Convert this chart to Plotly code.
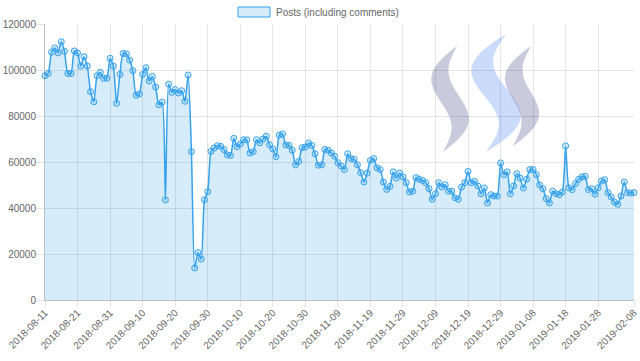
import numpy as np
import pandas as pd
import plotly.graph_objects as go

# ---- data ----
START_DATE = "2018-08-11"
END_DATE = "2019-02-08"
dates = [d.strftime("%Y-%m-%d") for d in pd.date_range(START_DATE, END_DATE, freq="D")]

posts = [
    97500, 98500, 107700, 109600, 107400, 112300, 108100, 98500, 98500, 108300,
    107400, 101700, 105800, 101700, 90600, 86200, 97500, 99000, 96400, 96400,
    105100, 101700, 85500, 98100, 107200, 107000, 104300, 99700, 89000, 89600,
    98100, 101000, 95200, 97200, 92600, 84900, 86000, 43500, 93800, 90300,
    91500, 90000, 91000, 86400, 97800, 64500, 13900, 20600, 17800, 43600,
    47100, 64600, 66100, 67100, 66800, 65400, 63100, 62800, 70300, 66700,
    67800, 69700, 69600, 63900, 64500, 69700, 68300, 70000, 71200, 67500,
    65700, 62300, 71700, 72200, 67400, 67200, 65100, 58800, 60300, 66200,
    66500, 68300, 67200, 63600, 58600, 58800, 65500, 65100, 63900, 62500,
    59700, 58300, 56700, 63600, 61500, 61200, 58800, 55400, 51300, 55100,
    60700, 61500, 57500, 56700, 51300, 48100, 49400, 55700, 53000, 55200,
    53500, 51000, 47000, 47300, 53200, 52500, 52000, 51000, 48400, 43800,
    46200, 51000, 49100, 50100, 47300, 47300, 44500, 43800, 49100, 51000,
    55900, 51000, 51600, 49600, 46200, 48700, 42200, 45800, 45200, 45200,
    59600, 54500, 55700, 46200, 49600, 54900, 53000, 48700, 52500, 56700,
    56700, 54500, 50100, 48400, 44100, 42200, 47300, 46200, 45800, 47000,
    67000, 48800, 48000, 50600, 52500, 53500, 53800, 48000, 48400, 46000,
    48800, 51700, 52300, 46700, 44800, 42600, 41600, 45200, 51300, 46700,
    46500, 46700,
]

x_tick_labels = [
    "2018-08-11", "2018-08-21", "2018-08-31", "2018-09-10", "2018-09-20",
    "2018-09-30", "2018-10-10", "2018-10-20", "2018-10-30", "2018-11-09",
    "2018-11-19", "2018-11-29", "2018-12-09", "2018-12-19", "2018-12-29",
    "2019-01-08", "2019-01-18", "2019-01-28", "2019-02-08",
]
y_ticks = [0, 20000, 40000, 60000, 80000, 100000, 120000]
series_name = "Posts (including comments)"

# ---- style ----
BLUE = "rgb(54,162,235)"
BLUE_FILL = "rgba(54,162,235,0.2)"
GRID = "rgba(0,0,0,0.1)"
AXIS = "rgba(0,0,0,0.25)"
TXT = "#666666"
FONT = "Liberation Sans, Arial, sans-serif"
FS = 10

W, H = 640, 361
ML, MR, MT, MB = 45, 6, 24, 61
PW, PH = W - ML - MR, H - MT - MB


def px(x):
    return (x - ML) / PW


def py(y):
    return (H - MB - y) / PH


fig = go.Figure()
fig.add_trace(go.Scatter(
    x=dates, y=posts, name=series_name, mode="lines+markers",
    line=dict(color=BLUE, width=1.5, shape="spline", smoothing=0.6),
    marker=dict(size=6, color=BLUE_FILL, line=dict(color=BLUE, width=1)),
    fill="tozeroy", fillcolor=BLUE_FILL, showlegend=False,
    hoverinfo="x+y", cliponaxis=False,
))


def stroke(x_top, y_top, x_bot, y_bot, amp, wmax, color, n=50):
    t = np.linspace(0, 1, n)
    y = y_top + (y_bot - y_top) * t
    xc = x_top + (x_bot - x_top) * t - amp * np.sin(2 * np.pi * t)
    w = wmax * np.sin(np.pi * t) ** 0.9
    left = xc - w / 2
    right = xc + w / 2
    pts = list(zip(left, y)) + list(zip(right[::-1], y[::-1]))
    path = "M " + " L ".join(f"{px(a):.5f},{py(b):.5f}" for a, b in pts) + " Z"
    return dict(type="path", path=path, xref="paper", yref="paper",
                fillcolor=color, line=dict(width=0), layer="below")


shapes = [
    stroke(457, 46, 443, 152, 13, 22, "rgba(150,150,185,0.5)"),
    stroke(506, 34, 486, 152, 18, 28, "rgba(160,192,245,0.55)"),
    stroke(531, 46, 513, 146, 12, 22, "rgba(150,150,185,0.5)"),
    # legend box
    dict(type="rect", xref="paper", yref="paper",
         x0=px(238), x1=px(270), y0=py(17), y1=py(7),
         fillcolor=BLUE_FILL, line=dict(color=BLUE, width=1)),
]

fig.update_layout(
    width=W, height=H,
    margin=dict(l=ML, r=MR, t=MT, b=MB, autoexpand=False),
    paper_bgcolor="white", plot_bgcolor="white",
    font=dict(family=FONT, size=FS, color=TXT),
    shapes=shapes,
    annotations=[dict(text=series_name, xref="paper", yref="paper",
                      x=px(274), y=py(12), xanchor="left", yanchor="middle",
                      showarrow=False, font=dict(family=FONT, size=FS, color=TXT))],
    xaxis=dict(
        type="category", range=[0, len(dates) - 1], automargin=False,
        tickmode="array", tickvals=x_tick_labels, ticktext=x_tick_labels,
        tickangle=-45, showgrid=True, gridcolor=GRID, gridwidth=1,
        ticks="outside", ticklen=6, tickcolor=GRID, ticklabelstandoff=-4,
        showline=True, linecolor=AXIS, linewidth=1,
        tickfont=dict(family=FONT, size=FS, color=TXT), zeroline=False,
    ),
    yaxis=dict(
        range=[0, 120000], tickmode="array", tickvals=y_ticks, automargin=False,
        tickformat="d", showgrid=True, gridcolor=GRID, gridwidth=1,
        ticks="outside", ticklen=8, tickcolor=GRID, ticklabelstandoff=-2,
        showline=True, linecolor=AXIS, linewidth=1, zeroline=False,
        tickfont=dict(family=FONT, size=FS, color=TXT),
    ),
)

fig.write_html(
    "out.html",
    config={"displayModeBar": False},
    post_script="document.body.style.margin='0';document.body.style.overflow='hidden';",
)
